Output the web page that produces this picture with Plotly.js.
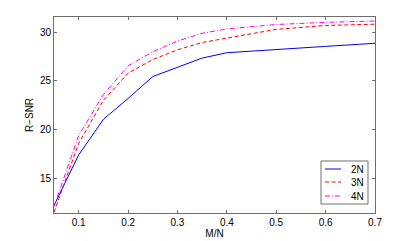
<!DOCTYPE html>
<html>
<head>
<meta charset="utf-8">
<script src="https://cdn.plot.ly/plotly-3.0.1.min.js"></script>
<style>html,body{margin:0;padding:0;background:#fff;}#chart{width:415px;height:241px;}</style>
</head>
<body>
<div id="chart"></div>
<script>
const ratio = [0.05, 0.1, 0.15, 0.2, 0.25, 0.3, 0.35, 0.4, 0.5, 0.6, 0.7];
const snr2N = [12.2, 17.4, 21.05, 23.2, 25.45, 26.4, 27.35, 27.9, 28.25, 28.55, 28.87];
const snr3N = [11.5, 18.6, 23.0, 25.8, 27.2, 28.2, 28.95, 29.4, 30.3, 30.7, 30.83];
const snr4N = [12.1, 19.4, 23.6, 26.55, 28.0, 29.1, 29.9, 30.34, 30.8, 31.02, 31.16];
const seriesNames = ['2N', '3N', '4N'];
const xTicks = [0.1, 0.2, 0.3, 0.4, 0.5, 0.6, 0.7];
const yTicks = [15, 20, 25, 30];

const font = {family: 'Liberation Sans, Arial, sans-serif', size: 10, color: '#000'};
const colors = ['#0000ff', '#ff0000', '#ff00ff'];
const dashes = ['solid', '4px,2.5px', '5px,2px,1px,2px'];
const series = [snr2N, snr3N, snr4N];
const traces = series.map((s, i) => ({
  x: ratio, y: s, name: seriesNames[i], mode: 'lines', showlegend: false,
  line: {color: colors[i], width: 1, dash: dashes[i]}
}));

// plot area in pixels
const W = 415, H = 241, mL = 54, mR = 40, mT = 17, mB = 28;
const pw = W - mL - mR, ph = H - mT - mB;
const px = v => (v - mL) / pw;
const py = v => (H - mB - v) / ph;

// custom compact legend (MATLAB style)
const shapes = [{
  type: 'rect', xref: 'paper', yref: 'paper',
  x0: px(321), x1: px(368), y0: py(204), y1: py(161),
  line: {color: '#6e6e6e', width: 1}, fillcolor: '#fff', layer: 'above'
}];
const annotations = [];
const rowY = [169, 182, 196];
seriesNames.forEach((n, i) => {
  shapes.push({
    type: 'line', xref: 'paper', yref: 'paper',
    x0: px(325), x1: px(341), y0: py(rowY[i]), y1: py(rowY[i]),
    line: {color: colors[i], width: 1, dash: dashes[i]}, layer: 'above'
  });
  annotations.push({
    xref: 'paper', yref: 'paper', x: px(366), y: py(rowY[i]),
    xanchor: 'right', yanchor: 'middle', showarrow: false, text: n, font: font
  });
});

const axisCommon = {
  showgrid: false, zeroline: false, showline: true, linecolor: '#6e6e6e', linewidth: 1,
  mirror: 'ticks', ticks: 'inside', ticklen: 3, tickcolor: '#6e6e6e', tickfont: font
};
const layout = {
  width: W, height: H,
  margin: {l: mL, r: mR, t: mT, b: mB},
  paper_bgcolor: '#fff', plot_bgcolor: '#fff',
  font: font,
  showlegend: false,
  shapes: shapes,
  annotations: annotations,
  xaxis: Object.assign({}, axisCommon, {
    range: [0.05, 0.7], tickvals: xTicks, ticktext: xTicks.map(v => v.toFixed(1)),
    title: {text: 'M/N', font: font, standoff: 0}
  }),
  yaxis: Object.assign({}, axisCommon, {
    range: [11.43, 31.57], tickvals: yTicks, ticktext: yTicks.map(String),
    title: {text: 'R\u2212SNR', font: font, standoff: 4}
  })
};
Plotly.newPlot('chart', traces, layout, {displayModeBar: false, staticPlot: true});
</script>
</body>
</html>
